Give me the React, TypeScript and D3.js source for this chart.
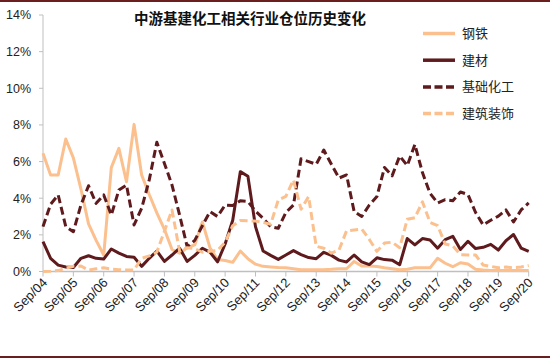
import * as d3 from 'd3';

// quarterly positions, Sep/04 .. Sep/20
const tickLabels = ['Sep/04', 'Sep/05', 'Sep/06', 'Sep/07', 'Sep/08', 'Sep/09', 'Sep/10', 'Sep/11', 'Sep/12',
  'Sep/13', 'Sep/14', 'Sep/15', 'Sep/16', 'Sep/17', 'Sep/18', 'Sep/19', 'Sep/20'];
const yTicks = [0, 2, 4, 6, 8, 10, 12, 14];

const steel = [6.45, 5.27, 5.27, 7.23, 6.2, 4.5, 2.6, 1.7, 0.9, 5.67, 6.72, 4.9, 8.03, 5.27, 4.2, 3.2,
  2.3, 1.2, 1.0, 1.3, 1.45, 2.7, 1.3, 0.65, 0.6, 0.5, 1.12, 0.7, 0.4, 0.28, 0.25, 0.22,
  0.2, 0.15, 0.1, 0.1, 0.1, 0.1, 0.12, 0.15, 0.15, 0.55, 0.3, 0.3, 0.27, 0.2, 0.15, 0.1,
  0.12, 0.2, 0.2, 0.2, 0.72, 0.45, 0.26, 0.48, 0.41, 0.12, 0.08, 0.05, 0.05, 0.05, 0.05, 0.05, 0.05];
const buildingMat = [1.63, 0.72, 0.35, 0.25, 0.22, 0.72, 0.86, 0.72, 0.68, 1.23, 1.0, 0.82, 0.78, 0.28, 0.72, 1.12,
  0.55, 0.9, 1.27, 0.55, 0.88, 1.27, 1.06, 0.53, 1.5, 2.8, 5.45, 5.2, 2.45, 1.12, 0.88, 0.66,
  0.9, 1.14, 0.92, 0.76, 0.7, 1.05, 0.88, 0.62, 0.52, 0.9, 0.53, 0.38, 0.75, 0.65, 0.62, 0.37,
  1.8, 1.45, 1.8, 1.72, 1.27, 1.74, 1.92, 1.2, 1.65, 1.25, 1.32, 1.48, 1.17, 1.68, 2.02, 1.28, 1.1];
const chemicals = [2.45, 3.67, 4.18, 2.45, 2.17, 3.63, 4.68, 3.72, 4.18, 3.08, 4.45, 4.72, 2.54, 3.45, 5.0, 7.05,
  5.9, 4.72, 3.08, 1.35, 1.7, 2.5, 3.27, 3.0, 3.63, 3.6, 3.86, 3.82, 3.3, 2.9, 2.45, 2.36,
  3.22, 3.63, 6.15, 6.0, 5.85, 6.63, 5.85, 5.1, 5.27, 3.27, 3.0, 3.63, 4.09, 5.68, 5.22, 6.3,
  5.78, 6.93, 5.4, 4.27, 3.74, 3.92, 3.86, 4.34, 4.2, 3.22, 2.54, 2.8, 3.02, 3.36, 2.7, 3.36, 3.74];
const construction = [0, 0.02, 0.05, 0.18, 0.28, 0.3, 0.08, 0.15, 0.2, 0.13, 0.1, 0.08, 0.08, 0.72, 0.85, 1.05,
  2.2, 3.36, 1.1, 1.3, 1.25, 1.05, 1.1, 1.15, 1.6, 2.5, 2.78, 2.77, 2.75, 2.68, 2.58, 3.9,
  4.1, 5.0, 3.4, 4.09, 1.38, 1.27, 1.0, 1.17, 2.22, 2.27, 2.32, 1.75, 1.1, 1.55, 1.6, 1.3,
  2.85, 2.93, 3.8, 2.68, 2.5, 1.5, 1.4, 0.92, 0.9, 0.9, 0.35, 0.28, 0.2, 0.25, 0.2, 0.25, 0.33];

const LIGHT = '#FBC08E';
const DARK = '#5E1A1C';

const series = [
  { name: '钢铁', values: steel, color: LIGHT, dash: '' },
  { name: '建材', values: buildingMat, color: DARK, dash: '' },
  { name: '基础化工', values: chemicals, color: DARK, dash: '8,4' },
  { name: '建筑装饰', values: construction, color: LIGHT, dash: '8,4' },
];

export default function App() {
  const x = d3.scaleLinear().domain([0, 64]).range([43, 528.7]);
  const y = d3.scaleLinear().domain([0, 14]).range([271.5, 15]);
  const line = d3.line<number>().x((_, i) => x(i)).y(d => y(d));
  const axisColor = '#BFBFBF';
  const cjk = '"Noto Sans CJK SC", sans-serif';

  return (
    <svg width={550} height={359} style={{ position: 'fixed', left: 0, top: 0, background: '#fff' }}
      fontFamily='"Liberation Sans", Arial, sans-serif'>
      <rect x={0} y={0} width={550} height={359} fill="#fff" />
      <line x1={0} x2={550} y1={1} y2={1} stroke="#6B1E1E" strokeWidth={2} />
      <line x1={0} x2={550} y1={357} y2={357} stroke="#6B1E1E" strokeWidth={2} />

      <text x={250} y={24} textAnchor="middle" fontFamily={cjk} fontWeight="bold" fontSize={14.5} fill="#111">
        中游基建化工相关行业仓位历史变化
      </text>

      {/* y axis */}
      <line x1={43} x2={43} y1={y(14)} y2={y(0)} stroke={axisColor} />
      {yTicks.map(t => (
        <g key={t}>
          <line x1={39} x2={43} y1={y(t)} y2={y(t)} stroke={axisColor} />
          <text x={31} y={y(t)} dy="0.35em" textAnchor="end" fontSize={12.5} fill="#222">{t}%</text>
        </g>
      ))}

      {/* x axis */}
      <line x1={43} x2={x(64)} y1={y(0)} y2={y(0)} stroke={axisColor} strokeWidth={1.5} />
      {tickLabels.map((lab, k) => (
        <g key={lab}>
          <line x1={x(k * 4)} x2={x(k * 4)} y1={y(0)} y2={y(0) + 5} stroke={axisColor} />
          <text transform={`translate(${x(k * 4) + 5},${y(0) + 12}) rotate(-45)`} textAnchor="end"
            fontSize={13} fill="#222">{lab}</text>
        </g>
      ))}

      {series.map(s => (
        <path key={s.name} d={line(s.values) ?? ''} fill="none" stroke={s.color} strokeWidth={3}
          strokeDasharray={s.dash || undefined} strokeLinejoin="round" />
      ))}

      {/* legend */}
      {series.map((s, i) => {
        const ly = 33.5 + i * 26.7;
        return (
          <g key={s.name}>
            <line x1={423} x2={455} y1={ly} y2={ly} stroke={s.color} strokeWidth={3.5}
              strokeDasharray={s.dash ? '8,3.5' : undefined} />
            <text x={462} y={ly} dy="0.35em" fontFamily={cjk} fontSize={13} fill="#222">{s.name}</text>
          </g>
        );
      })}
    </svg>
  );
}
